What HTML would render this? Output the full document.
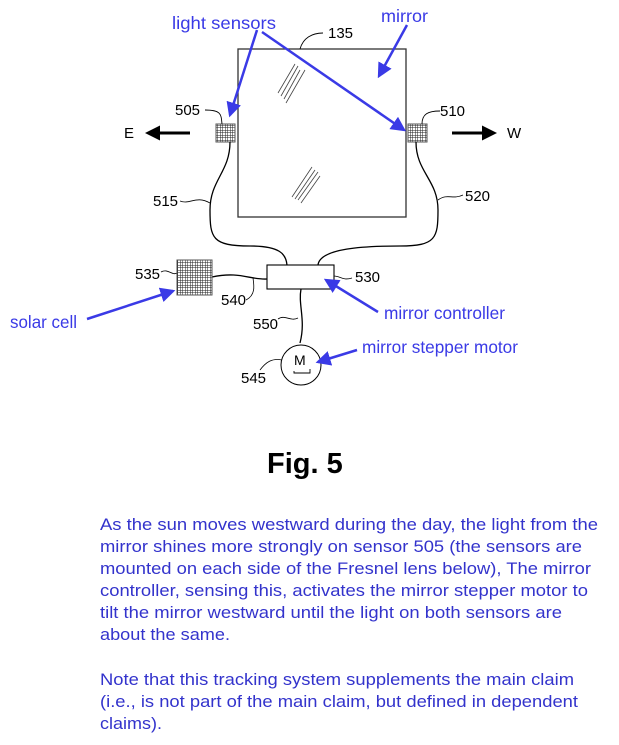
<!DOCTYPE html>
<html><head><meta charset="utf-8"><style>
html,body{margin:0;padding:0;background:#fff;width:619px;height:745px;overflow:hidden}
svg{display:block}
text{font-family:"Liberation Sans",sans-serif}
</style></head><body>
<svg width="619" height="745" viewBox="0 0 619 745" xmlns="http://www.w3.org/2000/svg">
<defs>
<pattern id="g" width="2.5" height="2.5" patternUnits="userSpaceOnUse"><rect width="2.5" height="2.5" fill="#fff"/><path d="M0 0H2.5M0 0V2.5" stroke="#222" stroke-width="1"/></pattern>
<marker id="ba" markerWidth="6" markerHeight="6" refX="5" refY="3" orient="auto" markerUnits="strokeWidth"><path d="M0,0 L6,3 L0,6 z" fill="#3a3ae6"/></marker>
<marker id="ka" markerWidth="5" markerHeight="5" refX="4" refY="2.5" orient="auto" markerUnits="strokeWidth"><path d="M0,0 L5,2.5 L0,5 z" fill="#000"/></marker>
</defs>
<rect x="238" y="49" width="168" height="168" fill="none" stroke="#333" stroke-width="1.3"/>
<g stroke="#444" stroke-width="0.8">
<line x1="278" y1="93" x2="295" y2="64"/><line x1="281" y1="96" x2="298" y2="66"/><line x1="284" y1="99" x2="300" y2="70"/><line x1="286" y1="103" x2="305" y2="70"/>
<line x1="292" y1="197" x2="312" y2="167"/><line x1="295" y1="199" x2="315" y2="170"/><line x1="298" y1="200" x2="318" y2="172"/><line x1="301" y1="203" x2="320" y2="176"/>
</g>
<path d="M300 49 C303 38 312 33 323 33" fill="none" stroke="#000" stroke-width="0.9"/>
<text x="328" y="38" font-size="15">135</text>
<rect x="216" y="124" width="19" height="18" fill="url(#g)" stroke="#555"/>
<rect x="408" y="124" width="19" height="18" fill="url(#g)" stroke="#555"/>
<path d="M205 110 C222 110 221 115 222 124" fill="none" stroke="#000" stroke-width="0.9"/>
<text x="175" y="115" font-size="15">505</text>
<path d="M422 124 C422 114 428 111 440 111" fill="none" stroke="#000" stroke-width="0.9"/>
<text x="440" y="116" font-size="15">510</text>
<line x1="190" y1="133" x2="148" y2="133" stroke="#000" stroke-width="3" marker-end="url(#ka)"/>
<text x="124" y="138" font-size="15">E</text>
<line x1="452" y1="133" x2="494" y2="133" stroke="#000" stroke-width="3" marker-end="url(#ka)"/>
<text x="507" y="138" font-size="15">W</text>
<g fill="none" stroke="#000" stroke-width="1.3">
<path d="M230 142 C230 172 210 180 210 210 C210 238 212 246 250 246 C280 246 286 254 287 265"/>
<path d="M416 142 C416 172 438 180 438 210 C438 238 436 246 400 246 C365 246 320 248 318 265"/>
<path d="M212 277 C240 271 250 280 267 279"/>
<path d="M301 289 C298 305 306 320 300 343"/>
</g>
<g fill="none" stroke="#000" stroke-width="0.8">
<path d="M180 201 C190 205 196 195 210 203"/>
<path d="M438 200 C448 193 452 200 463 195"/>
<path d="M161 272 C168 268 172 276 177 273"/>
<path d="M246 300 C256 295 254 285 253 278"/>
<path d="M334 276 C340 276 343 281 352 278"/>
<path d="M278 319 C285 314 290 322 298 318"/>
<path d="M260 370 C266 362 272 358 282 360"/>
</g>
<text x="153" y="206" font-size="15">515</text>
<text x="465" y="201" font-size="15">520</text>
<text x="135" y="279" font-size="15">535</text>
<text x="355" y="282" font-size="15">530</text>
<text x="221" y="305" font-size="15">540</text>
<text x="253" y="329" font-size="15">550</text>
<text x="241" y="383" font-size="15">545</text>
<rect x="177" y="260" width="35" height="35" fill="url(#g)" stroke="#555"/>
<rect x="267" y="265" width="67" height="24" fill="#fff" stroke="#000" stroke-width="1.1"/>
<circle cx="301" cy="365" r="20" fill="#fff" stroke="#000" stroke-width="1"/>
<text x="294" y="365" font-size="14">M</text>
<path d="M294 371 V373 H310 V369" fill="none" stroke="#000" stroke-width="0.9"/>
<g fill="#3a3ae6" font-size="17.5">
<text x="172" y="29" textLength="104" lengthAdjust="spacingAndGlyphs">light sensors</text>
<text x="381" y="22" textLength="47" lengthAdjust="spacingAndGlyphs">mirror</text>
<text x="10" y="328" textLength="67" lengthAdjust="spacingAndGlyphs">solar cell</text>
<text x="384" y="319" textLength="121" lengthAdjust="spacingAndGlyphs">mirror controller</text>
<text x="362" y="353" textLength="156" lengthAdjust="spacingAndGlyphs">mirror stepper motor</text>
</g>
<g stroke="#3a3ae6" stroke-width="2.5" fill="none">
<line x1="257" y1="30" x2="230" y2="115" marker-end="url(#ba)"/>
<line x1="262" y1="32" x2="404" y2="130" marker-end="url(#ba)"/>
<line x1="407" y1="25" x2="379" y2="76" marker-end="url(#ba)"/>
<line x1="87" y1="319" x2="173" y2="291" marker-end="url(#ba)"/>
<line x1="378" y1="312" x2="326" y2="280" marker-end="url(#ba)"/>
<line x1="357" y1="350" x2="318" y2="362" marker-end="url(#ba)"/>
</g>
<text x="267" y="473" font-size="29" font-weight="bold">Fig. 5</text>
<g fill="#3333cc" font-size="17">
<text x="100" y="530" textLength="498" lengthAdjust="spacingAndGlyphs">As the sun moves westward during the day, the light from the</text>
<text x="100" y="552" textLength="482" lengthAdjust="spacingAndGlyphs">mirror shines more strongly on sensor 505 (the sensors are</text>
<text x="100" y="574" textLength="491" lengthAdjust="spacingAndGlyphs">mounted on each side of the Fresnel lens below), The mirror</text>
<text x="100" y="596" textLength="488" lengthAdjust="spacingAndGlyphs">controller, sensing this, activates the mirror stepper motor to</text>
<text x="100" y="618" textLength="462" lengthAdjust="spacingAndGlyphs">tilt the mirror westward until the light on both sensors are</text>
<text x="100" y="640" textLength="130" lengthAdjust="spacingAndGlyphs">about the same.</text>
<text x="100" y="685" textLength="474" lengthAdjust="spacingAndGlyphs">Note that this tracking system supplements the main claim</text>
<text x="100" y="707" textLength="478" lengthAdjust="spacingAndGlyphs">(i.e., is not part of the main claim, but defined in dependent</text>
<text x="100" y="729" textLength="62" lengthAdjust="spacingAndGlyphs">claims).</text>
</g>
</svg>
</body></html>
